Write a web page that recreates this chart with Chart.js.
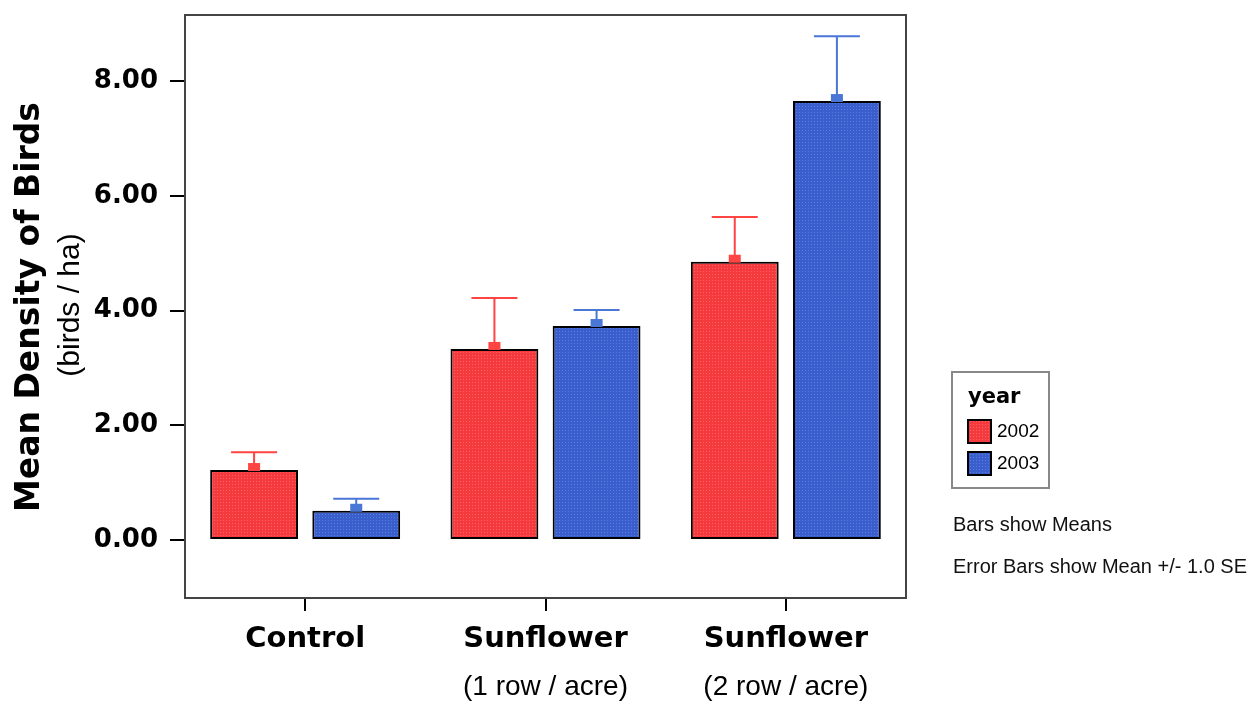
<!DOCTYPE html>
<html>
<head>
<meta charset="utf-8">
<script src="https://cdn.jsdelivr.net/npm/chart.js@4.4.0/dist/chart.umd.min.js"></script>
<style>
  html, body { margin: 0; padding: 0; background: #fff; }
</style>
</head>
<body>
<canvas id="chart" width="1260" height="702"></canvas>
<script>
// values
const categories = ['Control', 'Sunflower', 'Sunflower'];
const subLabels = ['', '(1 row / acre)', '(2 row / acre)'];
const years = ['2002', '2003'];
const mean2002 = [1.22, 3.33, 4.85];
const mean2003 = [0.51, 3.73, 7.65];
const se2002 = [0.31, 0.89, 0.78];
const se2003 = [0.21, 0.28, 1.13];
const yTicks = [0, 2, 4, 6, 8];
const notes = ['Bars show Means', 'Error Bars show Mean +/- 1.0 SE'];

const canvas = document.getElementById('chart');
const ctx = canvas.getContext('2d');

// dotted fill like the original bitmap
function makePattern(base, dot) {
    const p = document.createElement('canvas');
    p.width = 3; p.height = 3;
    const g = p.getContext('2d');
    g.fillStyle = base;
    g.fillRect(0, 0, 3, 3);
    g.fillStyle = dot;
    g.fillRect(1, 1, 1, 1);
    return ctx.createPattern(p, 'repeat');
}

const redFill = makePattern('#f43a3c', '#ff6464');
const blueFill = makePattern('#3a5ecc', '#587ce0');

// error bars with the little square on top of each bar
const errorBars = {
    id: 'errorBars',
    afterDatasetsDraw(chart) {
        const c = chart.ctx;
        const y = chart.scales.y;
        chart.data.datasets.forEach((ds, i) => {
            chart.getDatasetMeta(i).data.forEach((bar, j) => {
                const top = y.getPixelForValue(ds.data[j] + ds.se[j]);
                c.save();
                c.strokeStyle = ds.errColor;
                c.fillStyle = ds.errColor;
                c.lineWidth = 2;
                c.beginPath();
                c.moveTo(bar.x, bar.y);
                c.lineTo(bar.x, top);
                c.moveTo(bar.x - 23, top);
                c.lineTo(bar.x + 23, top);
                c.stroke();
                c.fillRect(bar.x - 6, bar.y - 7, 12, 8);
                c.restore();
            });
        });
    }
};

// frame, axis titles, category labels, legend and notes
const extras = {
    id: 'extras',
    afterDraw(chart) {
        const c = chart.ctx;
        const a = chart.chartArea;
        const x = chart.scales.x;
        c.save();

        c.strokeStyle = '#444';
        c.lineWidth = 2;
        c.strokeRect(a.left, a.top, a.right - a.left, a.bottom - a.top);

        // y title
        c.fillStyle = '#000';
        c.textAlign = 'center';
        c.textBaseline = 'middle';
        c.save();
        c.translate(30, 307);
        c.rotate(-Math.PI / 2);
        c.font = 'bold 33px "DejaVu Sans"';
        c.fillText('Mean Density of Birds', 0, 0);
        c.restore();
        c.save();
        c.translate(71, 305);
        c.rotate(-Math.PI / 2);
        c.font = '30px "Liberation Sans"';
        c.fillText('(birds / ha)', 0, 0);
        c.restore();

        // category labels
        categories.forEach((cat, i) => {
            const px = x.getPixelForValue(i);
            c.font = 'bold 29px "DejaVu Sans"';
            c.fillText(cat, px, 639);
            if (subLabels[i]) {
                c.font = '28px "Liberation Sans"';
                c.fillText(subLabels[i], px, 687);
            }
        });

        // legend
        c.strokeStyle = '#888';
        c.lineWidth = 2;
        c.strokeRect(952, 372, 97, 116);
        c.textAlign = 'left';
        c.font = 'bold 21px "DejaVu Sans"';
        c.fillText('year', 968, 398);
        chart.data.datasets.forEach((ds, i) => {
            const top = 420 + i * 32;
            c.fillStyle = ds.backgroundColor;
            c.fillRect(968, top, 23, 23);
            c.strokeStyle = '#000';
            c.strokeRect(968, top, 23, 23);
            c.fillStyle = '#000';
            c.font = '19px "Liberation Sans"';
            c.fillText(ds.label, 997, top + 12);
        });

        // notes
        c.font = '20px "Liberation Sans"';
        c.fillStyle = '#111';
        notes.forEach((n, i) => c.fillText(n, 953, 525 + i * 42));

        c.restore();
    }
};

new Chart(canvas, {
    type: 'bar',
    data: {
        labels: categories,
        datasets: [
            {
                label: years[0],
                data: mean2002,
                se: se2002,
                errColor: '#ff4444',
                backgroundColor: redFill,
                borderColor: '#000',
                borderWidth: 2,
                borderSkipped: false
            },
            {
                label: years[1],
                data: mean2003,
                se: se2003,
                errColor: '#4a76d6',
                backgroundColor: blueFill,
                borderColor: '#000',
                borderWidth: 2,
                borderSkipped: false
            }
        ]
    },
    options: {
        responsive: false,
        animation: false,
        devicePixelRatio: 1,
        categoryPercentage: 0.85,
        barPercentage: 0.86,
        layout: { padding: { top: 15, right: 354, left: 0, bottom: 0 } },
        plugins: {
            legend: { display: false },
            tooltip: { enabled: false }
        },
        scales: {
            x: {
                afterFit(scale) {
                    scale.height = 104;
                    scale.paddingLeft = 0;
                    scale.paddingRight = 0;
                },
                border: { display: false },
                grid: {
                    offset: false,
                    drawOnChartArea: false,
                    tickLength: 13,
                    color: '#000',
                    lineWidth: 2
                },
                ticks: { display: false }
            },
            y: {
                min: -1.01,
                max: 9.15,
                afterFit(scale) {
                    scale.width = 185;
                    scale.paddingTop = 0;
                    scale.paddingBottom = 0;
                },
                afterBuildTicks(scale) {
                    scale.ticks = yTicks.map(v => ({ value: v }));
                },
                border: { display: false },
                grid: {
                    drawOnChartArea: false,
                    tickLength: 15,
                    color: '#000',
                    lineWidth: 2
                },
                ticks: {
                    padding: 12,
                    color: '#000',
                    font: { family: 'DejaVu Sans', weight: 'bold', size: 26 },
                    callback: v => v.toFixed(2)
                }
            }
        }
    },
    plugins: [errorBars, extras]
});
</script>
</body>
</html>
